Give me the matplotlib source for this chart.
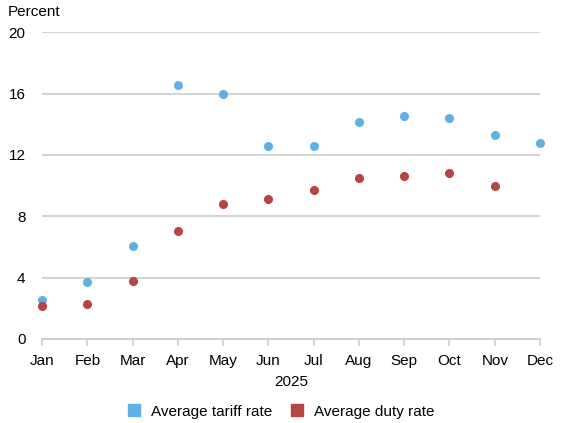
import matplotlib
matplotlib.use('Agg')
import matplotlib.pyplot as plt
from matplotlib.lines import Line2D

plt.rcParams['font.family'] = ['Liberation Sans', 'DejaVu Sans']

months = ['Jan', 'Feb', 'Mar', 'Apr', 'May', 'Jun', 'Jul', 'Aug', 'Sep', 'Oct', 'Nov', 'Dec']
tariff_rate = [2.55, 3.7, 6.05, 16.55, 16.0, 12.6, 12.6, 14.15, 14.55, 14.4, 13.3, 12.75]
duty_rate = [2.15, 2.3, 3.8, 7.05, 8.8, 9.1, 9.7, 10.5, 10.6, 10.85, 9.95]
yticks = [0, 4, 8, 12, 16, 20]

blue = '#5fb0e4'
red = '#b94242'

fig = plt.figure(figsize=(5.61, 4.23), dpi=100)
ax = fig.add_axes([0.075, 0.1986, 0.8876, 0.7254])

x = list(range(len(months)))
ax.plot(x, tariff_rate, 'o', color=blue, markersize=5.5, zorder=3, clip_on=False)
ax.plot(x[:len(duty_rate)], duty_rate, 'o', color=red, markersize=5.5, zorder=3, clip_on=False)

ax.set_xlim(0, 11)
ax.set_ylim(0, 20)
ax.set_yticks(yticks)
ax.set_xticks(x)
ax.set_xticklabels(months)
ax.grid(axis='y', color='#cccccc', linewidth=1.2)
ax.set_axisbelow(True)
for s in ['top', 'right', 'left']:
    ax.spines[s].set_visible(False)
ax.spines['bottom'].set_color('#cccccc')
ax.spines['bottom'].set_linewidth(1.2)
ax.tick_params(axis='y', length=0, labelsize=11, pad=12)
ax.tick_params(axis='x', length=5, color='#cccccc', width=1.2, labelsize=11, pad=6)
ax.set_xlabel('2025', fontsize=11, labelpad=5)
fig.text(0.014, 0.972, 'Percent', fontsize=11, ha='left', va='center')

handles = [Line2D([], [], marker='s', linestyle='none', color=blue, markersize=8),
           Line2D([], [], marker='s', linestyle='none', color=red, markersize=8)]
fig.legend(handles, ['Average tariff rate', 'Average duty rate'], loc='center',
           bbox_to_anchor=(0.5, 0.027), ncol=2, frameon=False, fontsize=11,
           handletextpad=0.6, columnspacing=1.1, handlelength=1.0)

fig.savefig('out.png', dpi=100)
